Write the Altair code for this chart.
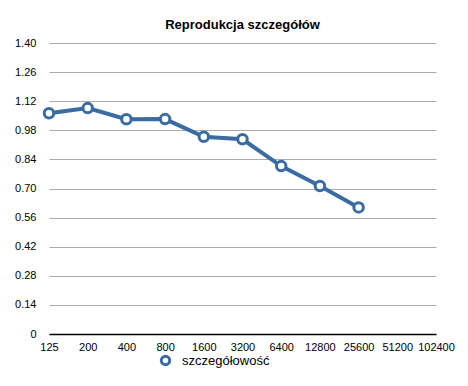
import altair as alt
import pandas as pd

categories = ["125", "200", "400", "800", "1600", "3200", "6400", "12800", "25600", "51200", "102400"]
values = [1.062, 1.087, 1.033, 1.034, 0.949, 0.937, 0.808, 0.712, 0.609, None, None]
series_name = "szczegółowość"
y_ticks = [0, 0.14, 0.28, 0.42, 0.56, 0.70, 0.84, 0.98, 1.12, 1.26, 1.40]

df = pd.DataFrame({"iso": categories, "val": values, "series": series_name})
pts = df.dropna()

FONT = "Liberation Sans"
BLUE = "#3b6ba3"

x_enc = alt.X("iso:N", sort=categories, scale=alt.Scale(domain=categories, padding=0),
              axis=alt.Axis(title=None, labelAngle=0, tickSize=0, labelPadding=7,
                            domainColor="#000000", domainWidth=1.5, grid=False,
                            labelFont=FONT, labelFontSize=11, labelColor="#000000"))
y_enc = alt.Y("val:Q", scale=alt.Scale(domain=[0, 1.40], nice=False, zero=True),
              axis=alt.Axis(title=None, values=y_ticks, domain=False, ticks=False,
                            labelPadding=13, gridColor="#aaaaaa", gridWidth=1,
                            labelExpr="datum.value == 0 ? '0' : format(datum.value, '.2f')",
                            labelFont=FONT, labelFontSize=11, labelColor="#000000"))

line = alt.Chart(pts).mark_line(strokeWidth=4, color=BLUE).encode(x=x_enc, y=y_enc)
points = alt.Chart(pts).mark_point(shape="circle", filled=False, fill="white", fillOpacity=1,
                                   strokeWidth=3, size=90, opacity=1).encode(
    x=x_enc, y=y_enc,
    color=alt.Color("series:N", scale=alt.Scale(range=[BLUE]),
                    legend=alt.Legend(title=None, orient="none", legendX=110, legendY=311,
                                      symbolType="circle", symbolFillColor="white",
                                      symbolStrokeWidth=3, symbolSize=70,
                                      labelFont=FONT, labelFontSize=13, labelColor="#000000",
                                      labelOffset=10))
)

chart = alt.layer(line, points).properties(
    width=387, height=291,
    title=alt.Title("Reprodukcja szczegółów", font=FONT, fontSize=13, fontWeight="bold",
                    color="#000000", anchor="middle", offset=5),
    autosize=alt.AutoSizeParams(type="none"),
    padding={"left": 41, "top": 35, "right": 24, "bottom": 44},
).configure_view(stroke=None)

chart.save("out.html", embed_options={"renderer": "svg", "actions": False})
